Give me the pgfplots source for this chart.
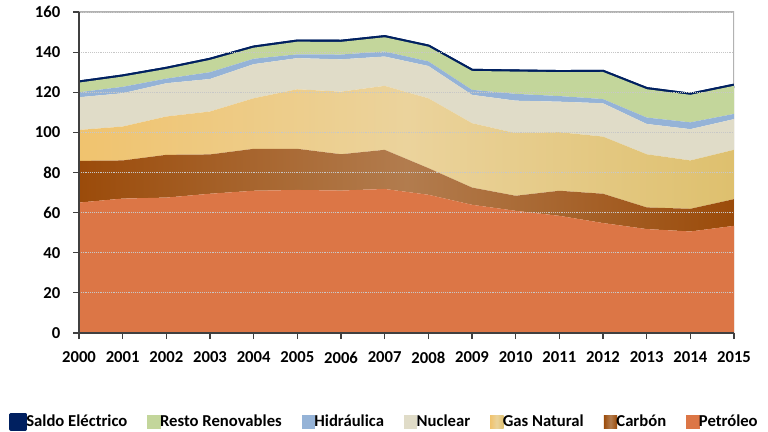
\documentclass[border=0pt]{standalone}
\usepackage{fontspec}
\setmainfont{Carlito}
\usepackage{pgfplots}
\usepackage{pgfplotstable}
\pgfplotsset{compat=1.18}
\definecolor{petr}{HTML}{DC7646}
\definecolor{carbL}{HTML}{9B4B0A}
\definecolor{carbM}{HTML}{B27C4E}
\definecolor{gasL}{HTML}{F0C36E}
\definecolor{gasM}{HTML}{EBD39C}
\definecolor{gasR}{HTML}{DEC06E}
\definecolor{nuc}{HTML}{E0DCC8}
\definecolor{hyd}{HTML}{95B3D7}
\definecolor{ren}{HTML}{C3D69B}
\definecolor{sal}{HTML}{002060}
\pgfplotstableread{
year petr carb gas nuc hyd ren sal
2000 65.0 20.8 15.4 16.3 2.5 4.8 0
2001 67.0 19.0 16.9 16.6 3.2 5.1 0
2002 67.5 21.3 19.1 16.6 2.3 4.8 0
2003 69.4 19.6 21.4 16.2 3.4 6.1 0
2004 70.9 20.9 25.2 17.0 2.7 5.5 0
2005 71.3 20.5 29.7 15.5 1.9 6.3 0
2006 71.0 18.1 31.2 16.1 2.4 6.3 0
2007 71.8 19.5 31.9 14.6 2.5 7.1 0
2008 68.9 13.3 34.8 16.1 2.3 7.3 0
2009 63.9 8.6 32.1 14.1 2.5 9.4 0
2010 60.9 7.5 31.2 16.2 3.4 11.1 0
2011 58.4 12.5 29.2 15.2 2.8 11.9 0
2012 54.8 14.6 28.5 16.6 2.1 13.5 0
2013 51.8 10.8 26.5 15.1 3.2 14.1 0
2014 50.6 11.3 24.1 15.6 3.4 13.7 0
2015 53.4 13.3 24.6 15.3 2.6 14.0 0
}\datatable
\begin{document}
\begin{tikzpicture}
\begin{axis}[
  name=ax,
  scale only axis,
  width=491.25pt, height=240.75pt,
  xmin=2000, xmax=2015, ymin=0, ymax=160,
  xtick={2000,2001,...,2015},
  ytick={0,20,...,160},
  stack plots=y,
  axis on top,
  axis lines=left,
  axis line style={-, black!75, line width=1pt},
  tick align=outside,
  major tick length=4.5pt,
  tick style={black!75, line width=0.8pt},
  ymajorgrids,
  grid style={densely dotted, black!22, line width=0.6pt},
  font=\bfseries\fontsize{12.5}{14}\selectfont,
  /pgf/number format/assume math mode=true,
  /pgf/number format/1000 sep={},
  xticklabel style={font=\bfseries\fontsize{12.5}{14}\selectfont, yshift=-6pt},
  yticklabel style={font=\bfseries\fontsize{12.5}{14}\selectfont, xshift=-6pt},
  reverse legend,
  legend columns=7,
  legend style={at={(0.467,-0.277)}, anchor=center, draw=none, fill=none,
    font=\bfseries\fontsize{12.5}{14}\selectfont,
    /tikz/every odd column/.append style={column sep=-2.5pt},
    /tikz/every even column/.append style={column sep=13pt},
    inner sep=0pt},
  legend image code/.code={\path[#1,draw=none] (0pt,-5pt) rectangle (10pt,5pt);},
]
\addplot[fill=petr, draw=none] table[x=year,y=petr]{\datatable} \closedcycle;
\addlegendentry{Petróleo}
\addplot[left color=carbL, right color=carbL, middle color=carbM, draw=none] table[x=year,y=carb]{\datatable} \closedcycle;
\addlegendentry{Carbón}
\addplot[left color=gasL, right color=gasR, middle color=gasM, draw=none] table[x=year,y=gas]{\datatable} \closedcycle;
\addlegendentry{Gas Natural}
\addplot[fill=nuc, draw=none] table[x=year,y=nuc]{\datatable} \closedcycle;
\addlegendentry{Nuclear}
\addplot[fill=hyd, draw=none] table[x=year,y=hyd]{\datatable} \closedcycle;
\addlegendentry{Hidráulica}
\addplot[fill=ren, draw=none] table[x=year,y=ren]{\datatable} \closedcycle;
\addlegendentry{Resto Renovables}
\addplot[stack plots=false, mark=none, solid, draw=sal, line width=3.2pt, line join=round,
  postaction={draw=sal, solid, line width=3.2pt, line join=round},
  legend image code/.code={\fill[sal] (0pt,-5pt) rectangle (10pt,5pt);}]
  table[x=year, y expr=\thisrow{petr}+\thisrow{carb}+\thisrow{gas}+\thisrow{nuc}+\thisrow{hyd}+\thisrow{ren}+\thisrow{sal}]{\datatable};
\addlegendentry{Saldo Eléctrico}
\node[rotate=90, font=\bfseries\fontsize{12.5}{14}\selectfont] at (rel axis cs:-0.0947,0.9097) {Mtep};
\draw[black!30, line width=1pt] (rel axis cs:0,1) -- (rel axis cs:1,1) -- (rel axis cs:1,0);
\end{axis}
\pgfresetboundingbox
\path (ax.south west) ++(-59.25pt,-74.25pt) rectangle ++(576pt,324pt);
\end{tikzpicture}
\end{document}
